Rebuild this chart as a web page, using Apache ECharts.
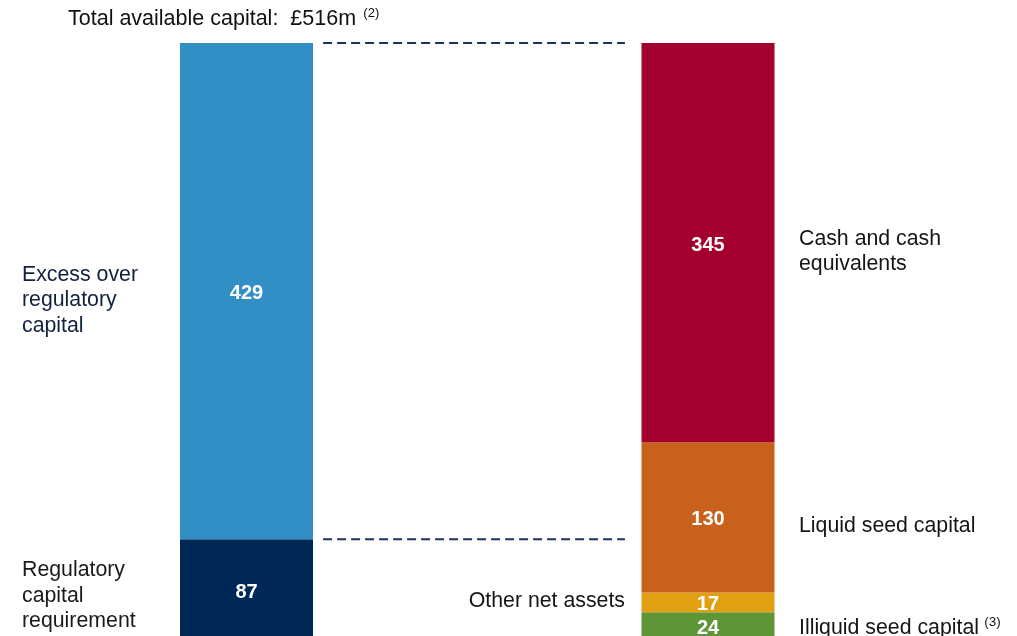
<!DOCTYPE html>
<html>
<head>
<meta charset="utf-8">
<script src="https://cdn.jsdelivr.net/npm/echarts@6/dist/echarts.min.js"></script>
<style>
  html, body { margin: 0; padding: 0; background: #fff; overflow: hidden; }
  #chart { width: 1017px; height: 642px; }
</style>
</head>
<body>
<div id="chart"></div>
<script>
// Capital composition, £m
const categories = ['Requirement', 'Composition'];
const regulatoryRequirement = [87, '-'];
const excessOverRegulatory = [429, '-'];
const illiquidSeed = ['-', 24];
const otherNetAssets = ['-', 17];
const liquidSeed = ['-', 130];
const cashEquivalents = ['-', 345];
const totalCapital = 516;

const FONT = 'Arial, "Liberation Sans", Helvetica, sans-serif';
const LABEL_SIZE = 21.3;

const chart = echarts.init(document.getElementById('chart'), null, { renderer: 'canvas' });

function segment(name, data, color) {
  return {
    name: name,
    type: 'bar',
    stack: 'capital',
    barWidth: 133,
    data: data,
    itemStyle: { color: color },
    label: {
      show: true,
      position: 'inside',
      offset: [0, 2.5],
      color: '#ffffff',
      fontFamily: FONT,
      fontWeight: 'bold',
      fontSize: 20
    },
    emphasis: { disabled: true }
  };
}

function dashed(yValue) {
  return {
    type: 'line',
    xAxisIndex: 1,
    symbol: 'none',
    silent: true,
    data: [[0.333, yValue], [0.66, yValue]],
    lineStyle: { color: '#1B3360', width: 2, type: [9, 5] }
  };
}

function sideText(x, y, text, fill, align) {
  return {
    type: 'text', x: x, y: y,
    style: {
      text: text, fontFamily: FONT, fontSize: LABEL_SIZE, lineHeight: 25.5,
      fill: fill, verticalAlign: 'middle', align: align || 'left'
    }
  };
}

const option = {
  animation: false,
  grid: { left: 15.75, top: 43, width: 923, height: 597 },
  xAxis: [
    { type: 'category', data: categories, show: false },
    { type: 'value', min: 0, max: 1, show: false }
  ],
  yAxis: { type: 'value', min: 0, max: totalCapital, show: false },
  series: [
    segment('Regulatory capital requirement', regulatoryRequirement, '#002856'),
    segment('Excess over regulatory capital', excessOverRegulatory, '#318FC6'),
    segment('Illiquid seed capital', illiquidSeed, '#5E9536'),
    segment('Other net assets', otherNetAssets, '#E1A012'),
    segment('Liquid seed capital', liquidSeed, '#C8611B'),
    segment('Cash and cash equivalents', cashEquivalents, '#A3002F'),
    dashed(totalCapital),
    dashed(regulatoryRequirement[0])
  ],
  graphic: [
    {
      type: 'text', x: 68, y: 19.5,
      style: {
        text: '{t|Total available capital:  £' + totalCapital + 'm} {s|(2)}',
        verticalAlign: 'middle',
        rich: {
          t: { fontFamily: FONT, fontSize: 21.5, fill: '#111111', height: 24 },
          s: { fontFamily: FONT, fontSize: 13, fill: '#111111', height: 24, padding: [0, 0, 12, 4] }
        }
      }
    },
    sideText(22, 300.5, 'Excess over\nregulatory\ncapital', '#13213F'),
    sideText(22, 596, 'Regulatory\ncapital\nrequirement', '#1A1A1A'),
    sideText(799, 251.5, 'Cash and cash\nequivalents', '#151515'),
    sideText(799, 526, 'Liquid seed capital', '#151515'),
    sideText(625, 601, 'Other net assets', '#151515', 'right'),
    {
      type: 'text', x: 799, y: 628,
      style: {
        text: '{t|Illiquid seed capital} {s|(3)}',
        verticalAlign: 'middle',
        rich: {
          t: { fontFamily: FONT, fontSize: LABEL_SIZE, fill: '#151515', height: 24 },
          s: { fontFamily: FONT, fontSize: 13.5, fill: '#151515', height: 24, padding: [0, 0, 12, 2] }
        }
      }
    }
  ]
};

chart.setOption(option);
</script>
</body>
</html>
